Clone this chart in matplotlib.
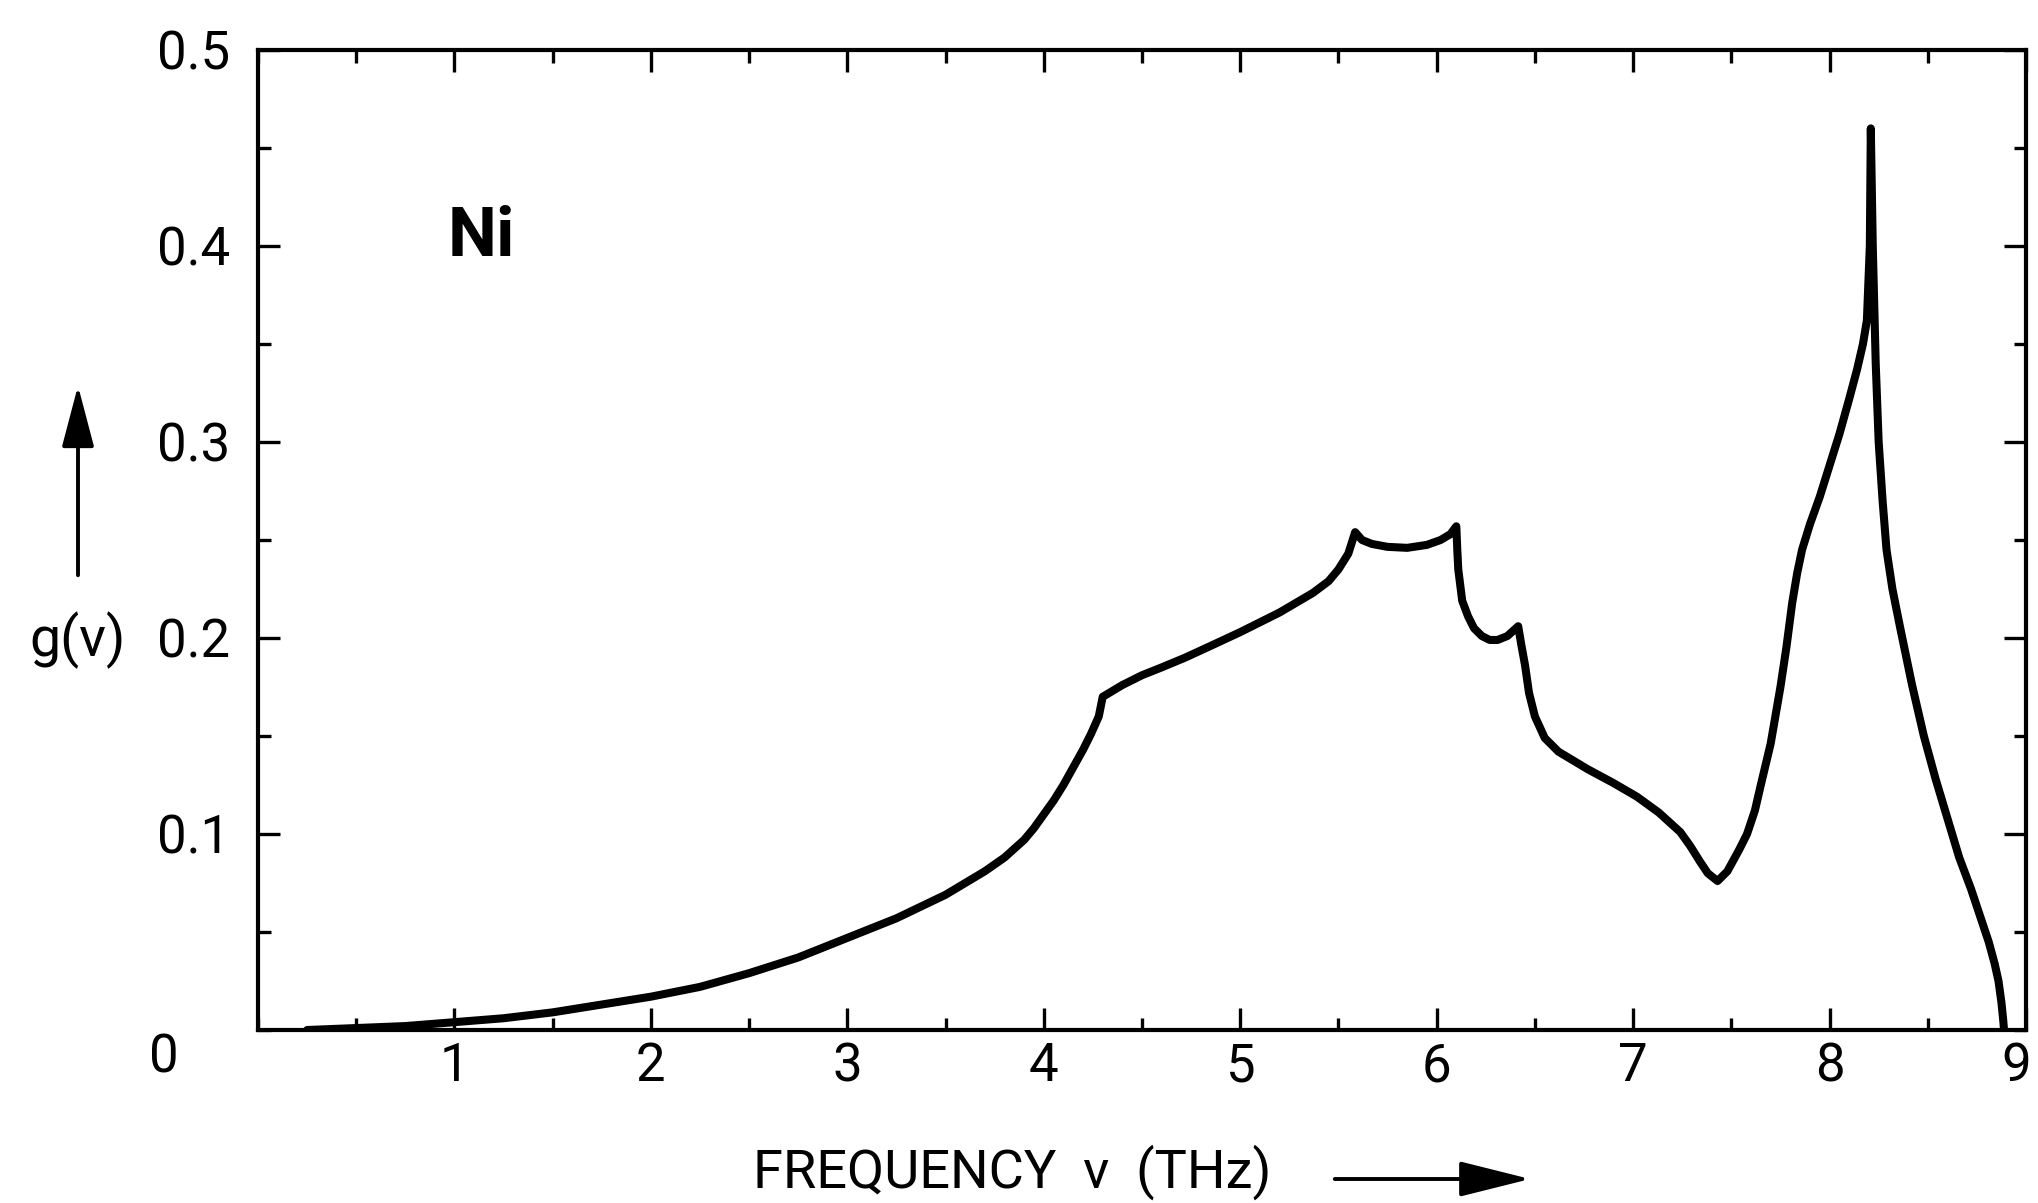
import matplotlib
matplotlib.use("Agg")
import matplotlib.pyplot as plt
from matplotlib.patches import FancyArrowPatch
from matplotlib.ticker import MultipleLocator
from matplotlib.transforms import ScaledTranslation

plt.rcParams['font.family'] = ['Roboto', 'DejaVu Sans']

# Phonon density of states of nickel
freq_thz = [0.25, 0.50, 0.75, 1.00, 1.25, 1.50, 1.75, 2.00, 2.25, 2.50,
            2.75, 3.00, 3.25, 3.50, 3.60, 3.70, 3.80, 3.90, 3.95, 4.00,
            4.05, 4.10, 4.15, 4.20, 4.24, 4.28, 4.30, 4.40, 4.50, 4.60,
            4.72, 4.85, 5.00, 5.06, 5.20, 5.37, 5.45, 5.50, 5.55, 5.585,
            5.62, 5.67, 5.75, 5.85, 5.95, 6.02, 6.07, 6.10, 6.105, 6.11,
            6.13, 6.16, 6.19, 6.23, 6.27, 6.31, 6.36, 6.415, 6.43, 6.45,
            6.47, 6.50, 6.55, 6.62, 6.77, 6.90, 7.02, 7.13, 7.24, 7.29,
            7.34, 7.38, 7.43, 7.48, 7.54, 7.58, 7.62, 7.65, 7.70, 7.75,
            7.78, 7.81, 7.835, 7.86, 7.90, 7.95, 8.00, 8.05, 8.10, 8.14,
            8.17, 8.19, 8.205, 8.21, 8.22, 8.235, 8.25, 8.27, 8.29, 8.32,
            8.36, 8.42, 8.48, 8.54, 8.60, 8.66, 8.72, 8.77, 8.81, 8.84,
            8.86, 8.875, 8.885, 8.888]
g_nu = [0.000, 0.001, 0.002, 0.004, 0.006, 0.009, 0.013, 0.017, 0.022, 0.029,
        0.037, 0.047, 0.057, 0.069, 0.075, 0.081, 0.088, 0.097, 0.103, 0.110,
        0.117, 0.125, 0.134, 0.143, 0.151, 0.160, 0.170, 0.176, 0.181, 0.185,
        0.190, 0.196, 0.203, 0.206, 0.213, 0.223, 0.229, 0.235, 0.243, 0.254,
        0.250, 0.248, 0.2465, 0.246, 0.2475, 0.250, 0.253, 0.257, 0.245, 0.235,
        0.219, 0.211, 0.205, 0.201, 0.199, 0.199, 0.201, 0.206, 0.197, 0.186,
        0.172, 0.160, 0.149, 0.142, 0.133, 0.126, 0.119, 0.111, 0.101, 0.094,
        0.086, 0.080, 0.076, 0.081, 0.092, 0.100, 0.112, 0.125, 0.146, 0.175,
        0.195, 0.218, 0.233, 0.245, 0.258, 0.272, 0.288, 0.304, 0.322, 0.337,
        0.350, 0.362, 0.400, 0.460, 0.400, 0.340, 0.300, 0.270, 0.245, 0.225,
        0.205, 0.176, 0.150, 0.128, 0.108, 0.088, 0.072, 0.057, 0.045, 0.034,
        0.025, 0.014, 0.004, 0.000]

x_ticks = [1, 2, 3, 4, 5, 6, 7, 8, 9]
y_ticks = [0.1, 0.2, 0.3, 0.4, 0.5]

W, H = 2038, 1203
fig = plt.figure(figsize=(W / 100, H / 100), dpi=100)
fig.patch.set_facecolor('white')
ax = fig.add_axes([258 / W, 1 - 1030 / H, (2026 - 258) / W, (1030 - 50) / H])

ax.plot(freq_thz, g_nu, color='black', lw=5.8,
        solid_joinstyle='round', solid_capstyle='round')

ax.set_xlim(0, 9)
ax.set_ylim(0, 0.5)

for sp in ax.spines.values():
    sp.set_linewidth(3.0)

ax.xaxis.set_major_locator(MultipleLocator(1))
ax.xaxis.set_minor_locator(MultipleLocator(0.5))
ax.yaxis.set_major_locator(MultipleLocator(0.1))
ax.yaxis.set_minor_locator(MultipleLocator(0.05))
ax.set_xticks(x_ticks)
ax.set_xticklabels([str(v) for v in x_ticks])
ax.set_yticks(y_ticks)
ax.set_yticklabels([f"{v:.1f}" for v in y_ticks])

ax.tick_params(which='both', direction='in', top=True, right=True,
               color='black', width=2.4)
ax.tick_params(which='major', length=16)
ax.tick_params(which='minor', length=9)
ax.tick_params(axis='x', which='major', pad=8, labelsize=38)
ax.tick_params(axis='y', which='major', pad=20, labelsize=38)

# keep the last frequency label inside the figure edge
last = ax.get_xticklabels()[-1]
last.set_transform(last.get_transform() + ScaledTranslation(-10 / 100, 0, fig.dpi_scale_trans))

# shared origin label
ax.annotate("0", xy=(0, 0), xycoords='data', xytext=(-68, -20),
            textcoords='offset points', ha='center', va='center',
            fontsize=38, annotation_clip=False)

# element label
ax.text(481 / W, 1 - 238 / H, "Ni", transform=fig.transFigure,
        ha='center', va='center', fontsize=50, fontweight='bold')

# axis labels with arrows
fig.text(1012 / W, 1 - 1172 / H, "FREQUENCY  ν  (THz)",
         ha='center', va='center', fontsize=39)
fig.text(78 / W, 1 - 640 / H, "g(ν)", ha='center', va='center', fontsize=40)

arrow_x = FancyArrowPatch((1332 / W, 1 - 1179 / H), (1533 / W, 1 - 1179 / H),
                          transform=fig.transFigure,
                          arrowstyle="-|>,head_length=2.2,head_width=0.55",
                          mutation_scale=20, color='black', lw=2.8)
arrow_y = FancyArrowPatch((78 / W, 1 - 578 / H), (78 / W, 1 - 383 / H),
                          transform=fig.transFigure,
                          arrowstyle="-|>,head_length=1.9,head_width=0.5",
                          mutation_scale=20, color='black', lw=2.8)
fig.add_artist(arrow_x)
fig.add_artist(arrow_y)

fig.savefig("out.png", dpi=100, facecolor='white')
